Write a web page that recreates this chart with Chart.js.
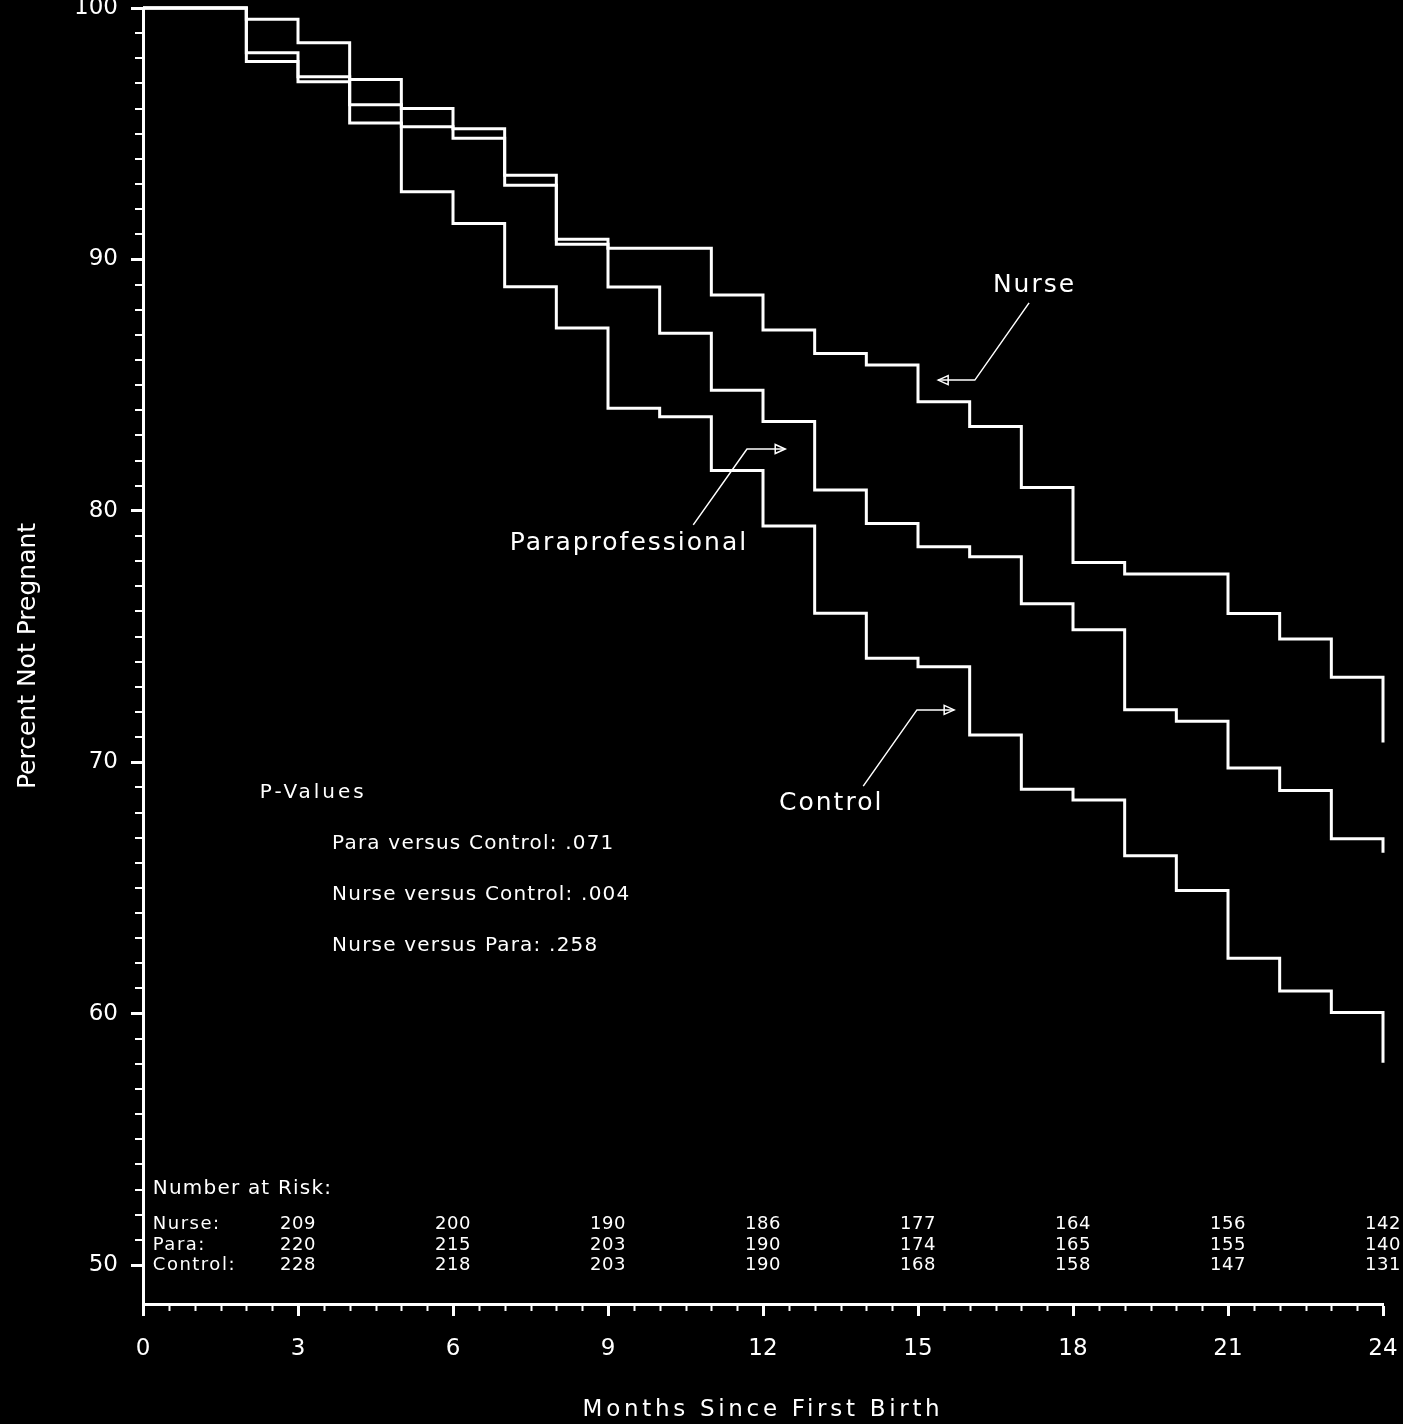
<!DOCTYPE html>
<html>
<head>
<meta charset="utf-8">
<title>Percent Not Pregnant by Months Since First Birth</title>
<script src="https://cdn.jsdelivr.net/npm/chart.js@4.4.1/dist/chart.umd.min.js"></script>
<style>
  html, body { margin: 0; padding: 0; background: #000; }
  canvas { display: block; }
</style>
</head>
<body>
<canvas id="km" width="1403" height="1424"></canvas>
<script>
// Kaplan-Meier estimates: percent not pregnant, stepping down at each month
const months = [0, 2, 3, 4, 5, 6, 7, 8, 9, 10, 11, 12, 13, 14, 15, 16, 17, 18, 19, 20, 21, 22, 23, 24];
const nursePct = [100, 99.55, 98.62, 97.16, 96.0, 95.2, 93.35, 90.8, 90.44, 90.44, 88.58, 87.19,
                  86.26, 85.8, 84.34, 83.35, 80.93, 77.94, 77.49, 77.49, 75.92, 74.9, 73.38, 70.78];
const paraPct = [100, 98.22, 97.27, 96.15, 95.28, 94.82, 92.95, 90.6, 88.9, 87.06, 84.8, 83.55,
                 80.83, 79.5, 78.57, 78.17, 76.3, 75.27, 72.09, 71.63, 69.77, 68.88, 66.96, 66.4];
const controlPct = [100, 97.87, 97.07, 95.43, 92.69, 91.43, 88.91, 87.27, 84.08, 83.74, 81.6, 79.4,
                    75.93, 74.14, 73.8, 71.08, 68.92, 68.5, 66.28, 64.9, 62.2, 60.9, 60.04, 58.05];

// Axis ticks
const xTicks = [0, 3, 6, 9, 12, 15, 18, 21, 24];
const yTicks = [50, 60, 70, 80, 90, 100];

// Number at risk table
const riskMonths = [3, 6, 9, 12, 15, 18, 21, 24];
const riskNurse = [209, 200, 190, 186, 177, 164, 156, 142];
const riskPara = [220, 215, 203, 190, 174, 165, 155, 140];
const riskControl = [228, 218, 203, 190, 168, 158, 147, 131];
const riskGroups = ['Nurse:', 'Para:', 'Control:'];

// Log-rank comparisons
const pValueTitle = 'P-Values';
const pValueLines = ['Para versus Control: .071', 'Nurse versus Control: .004', 'Nurse versus Para: .258'];

const FONT = '"DejaVu Sans", sans-serif';
Chart.defaults.font.family = FONT;

const toPoints = vals => months.map((m, i) => ({ x: m, y: vals[i] }));

// Curve labels with leader arrows, placed in data coordinates (month, percent)
const curveLabels = [
  { text: 'Nurse', at: [16.45, 88.98], path: [[17.15, 88.27], [16.10, 85.20], [15.39, 85.20]] },
  { text: 'Paraprofessional', at: [7.10, 78.68], path: [[10.65, 79.44], [11.69, 82.46], [12.43, 82.46]] },
  { text: 'Control', at: [12.31, 68.34], path: [[13.94, 69.05], [14.98, 72.08], [15.70, 72.08]] }
];

function text(ctx, str, x, y, size, spacing, align) {
  ctx.font = size + 'px ' + FONT;
  if ('letterSpacing' in ctx) ctx.letterSpacing = spacing + 'px';
  ctx.textAlign = align || 'left';
  ctx.textBaseline = 'middle';
  ctx.fillText(str, x, y);
}

const decorations = {
  id: 'decorations',
  beforeDraw(chart) {
    const { ctx, width, height } = chart;
    ctx.save();
    ctx.fillStyle = '#000';
    ctx.fillRect(0, 0, width, height);
    ctx.restore();
  },
  afterDraw(chart) {
    const { ctx, chartArea, scales: { x, y } } = chart;
    ctx.save();
    ctx.strokeStyle = '#fff';
    ctx.fillStyle = '#fff';

    // minor ticks: every half month on x, every unit on y
    ctx.lineWidth = 2;
    ctx.beginPath();
    for (let k = 1; k < 48; k++) {
      const m = k / 2;
      if (m % 3 === 0) continue;
      const px = Math.round(x.getPixelForValue(m)) + 0.5;
      ctx.moveTo(px, chartArea.bottom);
      ctx.lineTo(px, chartArea.bottom + 7);
    }
    for (let v = 51; v < 100; v++) {
      if (v % 10 === 0) continue;
      const py = Math.round(y.getPixelForValue(v));
      ctx.moveTo(chartArea.left - 1, py);
      ctx.lineTo(chartArea.left - 8, py);
    }
    ctx.stroke();

    // axis titles
    text(ctx, 'Months Since First Birth', (chartArea.left + chartArea.right) / 2, chart.height - 14, 23, 3.7, 'center');
    ctx.save();
    ctx.translate(28, (chartArea.top + chartArea.bottom) / 2);
    ctx.rotate(-Math.PI / 2);
    text(ctx, 'Percent Not Pregnant', 0, 0, 25, 0, 'center');
    ctx.restore();

    // curve labels and arrows
    ctx.lineWidth = 1.5;
    curveLabels.forEach(lab => {
      text(ctx, lab.text, x.getPixelForValue(lab.at[0]), y.getPixelForValue(lab.at[1]), 25, 2, 'left');
      const pts = lab.path.map(p => [x.getPixelForValue(p[0]), y.getPixelForValue(p[1])]);
      ctx.beginPath();
      ctx.moveTo(pts[0][0], pts[0][1]);
      for (let i = 1; i < pts.length; i++) ctx.lineTo(pts[i][0], pts[i][1]);
      ctx.stroke();
      const tip = pts[pts.length - 1];
      const prev = pts[pts.length - 2];
      const len = Math.hypot(tip[0] - prev[0], tip[1] - prev[1]);
      const dx = (tip[0] - prev[0]) / len, dy = (tip[1] - prev[1]) / len;
      const bx = tip[0] - dx * 10, by = tip[1] - dy * 10;
      ctx.beginPath();
      ctx.moveTo(tip[0], tip[1]);
      ctx.lineTo(bx - dy * 4.5, by + dx * 4.5);
      ctx.lineTo(bx + dy * 4.5, by - dx * 4.5);
      ctx.closePath();
      ctx.stroke();
    });

    // p-values block
    text(ctx, pValueTitle, x.getPixelForValue(2.26), y.getPixelForValue(68.78), 20, 3, 'left');
    const pRows = [66.75, 64.72, 62.69];
    pValueLines.forEach((line, i) => {
      text(ctx, line, x.getPixelForValue(3.66), y.getPixelForValue(pRows[i]), 20, 1.2, 'left');
    });

    // number at risk table
    const tableX = x.getPixelForValue(0.19);
    text(ctx, 'Number at Risk:', tableX, y.getPixelForValue(53.05), 20, 1.2, 'left');
    const rowY = [51.6, 50.8, 50.0].map(v => y.getPixelForValue(v));
    const rows = [riskNurse, riskPara, riskControl];
    rows.forEach((vals, r) => {
      text(ctx, riskGroups[r], tableX, rowY[r], 18, 1.5, 'left');
      vals.forEach((n, c) => {
        text(ctx, String(n), x.getPixelForValue(riskMonths[c]), rowY[r], 18, 0.5, 'center');
      });
    });
    ctx.restore();
  }
};

const curveStyle = {
  stepped: 'before',
  borderColor: '#ffffff',
  borderWidth: 3,
  borderJoinStyle: 'miter',
  pointRadius: 0,
  fill: false,
  clip: false
};

new Chart(document.getElementById('km'), {
  type: 'line',
  data: {
    datasets: [
      Object.assign({ label: 'Nurse', data: toPoints(nursePct) }, curveStyle),
      Object.assign({ label: 'Paraprofessional', data: toPoints(paraPct) }, curveStyle),
      Object.assign({ label: 'Control', data: toPoints(controlPct) }, curveStyle)
    ]
  },
  options: {
    responsive: false,
    devicePixelRatio: 1,
    animation: false,
    layout: { padding: { top: 8, right: 20, left: 0, bottom: 0 } },
    plugins: { legend: { display: false }, tooltip: { enabled: false } },
    scales: {
      x: {
        type: 'linear',
        min: 0,
        max: 24,
        afterBuildTicks: s => { s.ticks = xTicks.map(v => ({ value: v })); },
        afterFit: s => {
          s.height = 120;
          s.paddingLeft = 0; s.paddingRight = 0; s.paddingTop = 0; s.paddingBottom = 0;
        },
        grid: { drawOnChartArea: false, color: '#fff', tickLength: 12, tickWidth: 3 },
        border: { display: true, color: '#fff', width: 3 },
        ticks: { color: '#fff', font: { size: 23 }, padding: 19, maxRotation: 0, autoSkip: false }
      },
      y: {
        type: 'linear',
        min: 48.45,
        max: 100,
        afterBuildTicks: s => { s.ticks = yTicks.map(v => ({ value: v })); },
        afterFit: s => {
          s.width = 143;
          s.paddingLeft = 0; s.paddingRight = 0; s.paddingTop = 0; s.paddingBottom = 0;
        },
        grid: { drawOnChartArea: false, color: '#fff', tickLength: 12, tickWidth: 3 },
        border: { display: true, color: '#fff', width: 3 },
        ticks: { color: '#fff', font: { size: 23 }, padding: 13, autoSkip: false }
      }
    }
  },
  plugins: [decorations]
});
</script>
</body>
</html>
